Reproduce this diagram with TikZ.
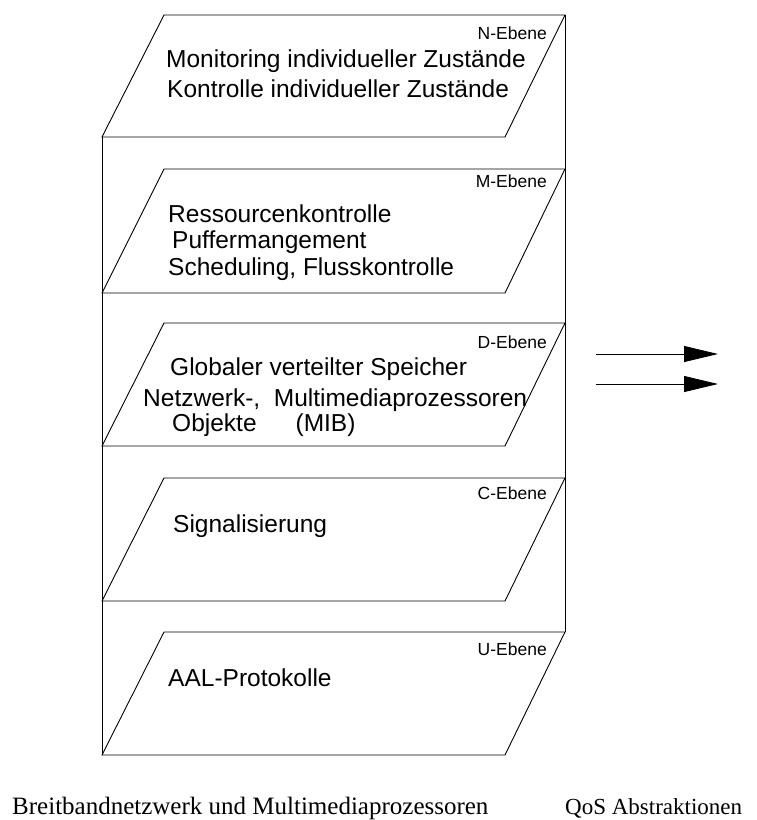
\documentclass[tikz,border=0pt]{standalone}
\usepackage{fontspec}
\setmainfont{Liberation Serif}
\newfontfamily\planefont{Liberation Sans}
\usetikzlibrary{arrows.meta}

% one layer of the stack: a slanted plane between y-top and y-bottom
\newcommand\layerplane[3]{%
  \coordinate (#1-tl) at (164,#2);
  \coordinate (#1-tr) at (565,#2);
  \coordinate (#1-br) at (505,#3);
  \coordinate (#1-bl) at (102,#3);
  \draw[plane] (#1-bl) -- (#1-tl) -- (#1-tr) -- (#1-br) -- cycle;}

\begin{document}
\begin{tikzpicture}[x=1pt,y=-1pt,
  plane/.style={draw, line width=0.9pt, line join=miter},
  frame/.style={draw, line width=0.9pt},
  big/.style={font=\planefont\fontsize{24.5}{28}\selectfont, anchor=base west, inner sep=0pt},
  tag/.style={font=\planefont\fontsize{17.5}{20}\selectfont, anchor=base east, inner sep=0pt},
  caption/.style={anchor=base west, inner sep=0pt},
  flow/.style={-{Triangle[length=34pt,width=16pt]}, line width=0.9pt}]
\useasboundingbox (0,0) rectangle (756,820);

% the five planes
\layerplane{N}{15}{137}
\layerplane{M}{169}{293}
\layerplane{D}{323}{446}
\layerplane{C}{478}{601}
\layerplane{U}{632}{755}

% side walls of the stack
\draw[frame] (N-bl) -- (U-bl);
\draw[frame] (N-tr) -- (U-tr);

% plane tags
\node[tag] (tagN) at (547,39) {N-Ebene};
\node[tag] (tagM) at (547,187) {M-Ebene};
\node[tag] (tagD) at (547,348) {D-Ebene};
\node[tag] (tagC) at (547,499) {C-Ebene};
\node[tag] (tagU) at (547,655) {U-Ebene};

% plane contents
\node[big] (n1) at (166,67) {Monitoring individueller Zustände};
\node[big] (n2) at (167,97) {Kontrolle individueller Zustände};

\node[big] (m1) at (168,222) {Ressourcenkontrolle};
\node[big] (m2) at (172,248) {Puffermangement};
\node[big] (m3) at (168,275) {Scheduling, Flusskontrolle};

\node[big] (d1) at (170,375) {Globaler verteilter Speicher};
\node[big] (d2) at (143,406) {Netzwerk-,\ \ Multimediaprozessoren};
\node[big] (d3) at (172,431) {Objekte\hspace{39pt}(MIB)};

\node[big] (c1) at (173,532) {Signalisierung};

\node[big] (u1) at (168,686) {AAL-Protokolle};

% arrows towards the QoS side
\coordinate (a1s) at (596,354);
\coordinate (a1e) at (718,354);
\coordinate (a2s) at (596,384);
\coordinate (a2e) at (718,384);
\draw[flow] (a1s) -- (a1e);
\draw[flow] (a2s) -- (a2e);

% captions
\node[caption, font=\fontsize{25}{29}\selectfont] (capL) at (12,814) {Breitbandnetzwerk und Multimediaprozessoren};
\node[caption, font=\fontsize{23}{27}\selectfont] (capR) at (565,814) {QoS Abstraktionen};
\end{tikzpicture}
\end{document}
